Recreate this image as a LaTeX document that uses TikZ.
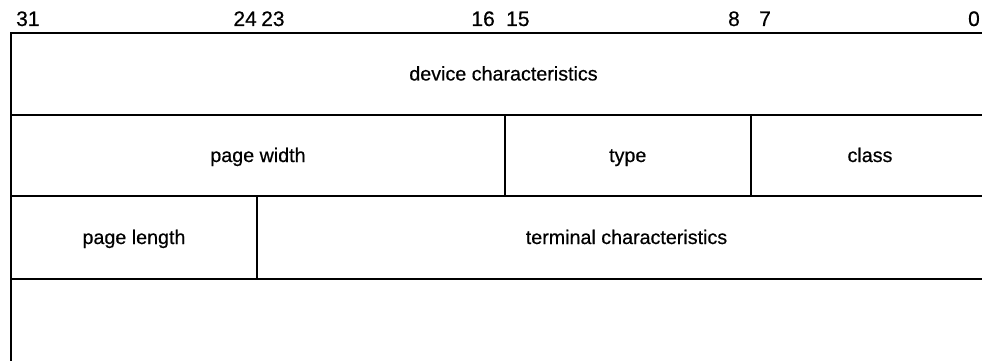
\documentclass[tikz,border=0pt]{standalone}
\usepackage{fontspec}
\setmainfont{Liberation Sans}[UprightFeatures={FakeBold=0.5}]
\begin{document}
\begin{tikzpicture}[x=1pt,y=-1pt,
  rule/.style={line width=1.7pt, line cap=rect},
  lbl/.style={font=\fontsize{19.7}{19.7}\selectfont, inner sep=0pt, anchor=base},
  num/.style={font=\fontsize{21}{21}\selectfont, inner sep=0pt, anchor=base}]
\useasboundingbox (0,0) rectangle (982,361);
\begin{scope}
\clip (0,0) rectangle (982,361);
% rows
\coordinate (tl) at (11,33);
\coordinate (tr) at (996,33);
\coordinate (r1l) at (11,115);
\coordinate (r1r) at (996,115);
\coordinate (r2l) at (11,196);
\coordinate (r2r) at (996,196);
\coordinate (r3l) at (11,279);
\coordinate (r3r) at (996,279);
\coordinate (bl) at (11,361);
\draw[rule] (tr) -- (tl) -- (bl);
\draw[rule] (r1l) -- (r1r);
\draw[rule] (r2l) -- (r2r);
\draw[rule] (r3l) -- (r3r);
% dividers
\coordinate (d1t) at (505,115);
\coordinate (d1b) at (505,196);
\coordinate (d2t) at (751,115);
\coordinate (d2b) at (751,196);
\coordinate (d3t) at (257,196);
\coordinate (d3b) at (257,279);
\draw[rule] (d1t) -- (d1b);
\draw[rule] (d2t) -- (d2b);
\draw[rule] (d3t) -- (d3b);
% field labels
\node[lbl] (dev) at (503.5,80.5) {device characteristics};
\node[lbl] (pw) at (258,162) {page width};
\node[lbl] (ty) at (627.75,162) {type};
\node[lbl] (cl) at (870,162) {class};
\node[lbl] (pl) at (134,244) {page length};
\node[lbl] (tc) at (626.5,244) {terminal characteristics};
\end{scope}
% bit numbers
\node[num, anchor=base west] (b31) at (16,26) {31};
\node[num, anchor=base east] (b24) at (257,26) {24};
\node[num, anchor=base west] (b23) at (261,26) {23};
\node[num, anchor=base east] (b16) at (495,26) {16};
\node[num, anchor=base west] (b15) at (506,26) {15};
\node[num, anchor=base east] (b8) at (740,26) {8};
\node[num, anchor=base west] (b7) at (759,26) {7};
\node[num, anchor=base east] (b0) at (980,26) {0};
\end{tikzpicture}
\end{document}
